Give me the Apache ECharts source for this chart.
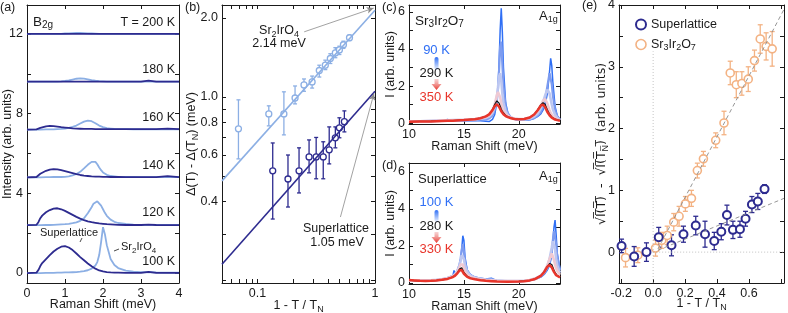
<!DOCTYPE html>
<html><head><meta charset="utf-8">
<script src="https://cdn.jsdelivr.net/npm/echarts@6/dist/echarts.min.js"></script>
<style>html,body{margin:0;padding:0;background:#fff}#c{width:788px;height:313px}</style>
</head><body><div id="c"></div>
<script>
// ---------- Panel (a): B2g spectra ----------
const aX = [0,0.25,0.3,0.35,0.4,0.5,0.6,0.7,0.8,0.9,1.0,1.1,1.2,1.3,1.4,1.5,1.6,1.7,1.75,1.8,1.85,1.9,1.95,2.0,2.05,2.1,2.2,2.3,2.4,2.6,2.8,3.0,3.2,3.4,3.7,4.0];
const aOffset = [0,2.4,4.8,7.2,9.6,12];
const aTempLabels = ['100 K','120 K','140 K','160 K','180 K','T = 200 K'];
const slA100 = [0,0.02,0.15,0.35,0.5,0.7,0.9,1.08,1.22,1.32,1.35,1.28,1.15,0.98,0.8,0.64,0.48,0.34,0.28,0.22,0.17,0.13,0.1,0.08,0.06,0.05,0.03,0.02,0.02,0.01,0.01,0.01,0.06,0.01,0.01,0.01];
const slA120 = [0,0.02,0.15,0.35,0.48,0.65,0.76,0.83,0.85,0.8,0.72,0.62,0.52,0.42,0.33,0.25,0.19,0.15,0.13,0.12,0.1,0.09,0.08,0.07,0.06,0.05,0.04,0.03,0.02,0.01,0.01,0.01,0.03,0.01,0,0];
const slA140 = [0,0.02,0.08,0.18,0.25,0.33,0.39,0.41,0.4,0.36,0.31,0.26,0.21,0.16,0.12,0.09,0.07,0.05,0.05,0.04,0.04,0.04,0.03,0.03,0.03,0.03,0.02,0.02,0.02,0.01,0.01,0.01,0.01,0.01,0.06,0.01];
const slA160 = [0,0.01,0.04,0.08,0.12,0.16,0.18,0.17,0.15,0.12,0.1,0.08,0.06,0.05,0.04,0.03,0.03,0.03,0.03,0.02,0.02,0.02,0.02,0.02,0.02,0.02,0.02,0.02,0.02,0.02,0.02,0.02,0.02,0.02,0.05,0.02];
const slA180 = [0,0,0,0,0,0,0,0,0,0,0,0,0,0,0,0,0,0,0,0,0,0,0,0,0,0,0,0,0,0,0,0,0.06,0,0,0];
const slA200 = [0,0,0,0,0,0,0,0,0,0,0,0,0,0,0,0,0,0,0,0,0,0,0,0,0,0,0,0,0,0,0,0,0,0,0,0];
const srA100 = [0,0,0,0,0,0.01,0.01,0.01,0.02,0.02,0.03,0.03,0.04,0.05,0.07,0.1,0.14,0.22,0.28,0.38,0.55,0.9,1.55,2.3,1.95,1.4,0.7,0.4,0.25,0.12,0.07,0.05,0.04,0.03,0.02,0.02];
const srA120 = [0,0,0,0,0,0.01,0.01,0.02,0.03,0.04,0.05,0.07,0.1,0.14,0.22,0.35,0.6,0.9,1.08,1.18,1.2,1.12,0.98,0.8,0.62,0.47,0.28,0.17,0.11,0.06,0.03,0.02,0.02,0.01,0.01,0.01];
const srA140 = [0,0,0,0,0,0.01,0.01,0.02,0.02,0.02,0.03,0.05,0.1,0.17,0.28,0.45,0.63,0.78,0.82,0.78,0.66,0.5,0.36,0.25,0.18,0.13,0.07,0.05,0.03,0.02,0.02,0.01,0.01,0.01,0.01,0.01];
const srA160 = [0,0,0,0,0,0.01,0.01,0.01,0.02,0.03,0.05,0.08,0.13,0.2,0.3,0.4,0.45,0.42,0.38,0.32,0.26,0.2,0.15,0.12,0.09,0.07,0.05,0.03,0.02,0.02,0.01,0.01,0.01,0.01,0.01,0.01];
const srA180 = [0,0,0,0,0,0,0,0,0.01,0.02,0.04,0.07,0.11,0.15,0.17,0.16,0.12,0.08,0.06,0.05,0.04,0.03,0.02,0.02,0.01,0.01,0,0,0,0,0,0,0,0,0,0];
const srA200 = [0,0,0,0,0,0,0,0,0,0,0.02,0.03,0.04,0.05,0.05,0.04,0.03,0.02,0.02,0.01,0,0,0,0,0,0,0,0,0,0,0,0,0,0,0,0];
const aSL = [slA100, slA120, slA140, slA160, slA180, slA200];
const aSR = [srA100, srA120, srA140, srA160, srA180, srA200];

// ---------- Panel (b): gap vs reduced temperature ----------
const bSrX  = [0.069,0.125,0.168,0.209,0.249,0.292,0.336,0.378,0.417,0.460,0.498,0.539,0.607];
const bSrY  = [0.755,0.861,0.861,0.99,1.11,1.14,1.26,1.32,1.40,1.47,1.51,1.58,1.68];
const bSrLo = [0.58,0.775,0.716,0.94,1.05,1.08,1.19,1.27,1.34,1.41,1.45,1.53,1.64];
const bSrHi = [0.974,0.924,1.045,1.10,1.17,1.20,1.32,1.38,1.46,1.54,1.56,1.63,1.72];
const bSlX  = [0.135,0.182,0.226,0.275,0.316,0.363,0.408,0.460,0.498,0.549];
const bSlY  = [0.522,0.486,0.522,0.59,0.59,0.59,0.628,0.698,0.762,0.804];
const bSlLo = [0.342,0.38,0.43,0.513,0.487,0.487,0.555,0.639,0.698,0.735];
const bSlHi = [0.667,0.60,0.639,0.685,0.70,0.674,0.768,0.768,0.832,0.884];
const bSrFit = [[0.05,0.478],[1,2.14]];
const bSlFit = [[0.05,0.230],[1,1.05]];
const bSrNote = [[0.25,1.77],[0.975,2.18]];
const bSlNote = [[0.508,0.348],[0.98,1.03]];

// ---------- Panel (c): Sr3Ir2O7 A1g ----------
const cX   = [10,11,12,13,13.5,14,15,16,16.5,17,17.3,17.6,17.8,18.0,18.1,18.2,18.3,18.4,18.5,18.6,18.8,19.0,19.3,19.6,20,20.5,21,21.4,21.7,22.0,22.2,22.4,22.6,22.8,22.9,23.0,23.1,23.3,23.5,23.75];
const c090 = [0.08,0.1,0.1,0.12,0.2,0.12,0.12,0.12,0.12,0.1,0.08,0.2,0.45,1.1,1.9,3.2,5.0,6.2,4.9,3.0,1.1,0.55,0.3,0.2,0.15,0.15,0.18,0.25,0.35,0.5,0.7,1.0,1.6,2.8,3.5,3.1,2.2,0.9,0.4,0.2];
const c150 = [0.09,0.1,0.11,0.13,0.15,0.14,0.15,0.16,0.18,0.2,0.25,0.4,0.7,1.2,1.8,2.8,4.1,4.4,3.2,2.0,0.9,0.5,0.3,0.22,0.17,0.17,0.2,0.28,0.4,0.6,0.85,1.25,2.0,2.7,2.6,2.1,1.5,0.7,0.35,0.18];
const c220 = [0.09,0.1,0.12,0.14,0.15,0.16,0.17,0.2,0.23,0.28,0.35,0.55,0.85,1.4,1.9,2.5,2.7,2.3,1.6,1.1,0.65,0.42,0.3,0.23,0.2,0.2,0.25,0.35,0.5,0.8,1.1,1.5,1.8,1.6,1.3,1.0,0.75,0.45,0.28,0.17];
const c260 = [0.08,0.09,0.11,0.13,0.14,0.15,0.18,0.22,0.26,0.33,0.42,0.65,1.0,1.5,1.68,1.65,1.4,1.1,0.85,0.68,0.48,0.38,0.29,0.24,0.22,0.23,0.3,0.45,0.65,0.95,1.2,1.3,1.05,0.7,0.55,0.45,0.37,0.27,0.2,0.15];
const c290 = [0.08,0.09,0.1,0.12,0.13,0.14,0.17,0.22,0.27,0.36,0.48,0.72,1.0,1.2,1.2,1.08,0.92,0.76,0.63,0.53,0.41,0.34,0.27,0.23,0.21,0.23,0.31,0.47,0.7,0.98,1.1,1.0,0.72,0.48,0.4,0.33,0.28,0.21,0.17,0.14];
const c350 = [0.07,0.08,0.09,0.11,0.12,0.13,0.16,0.21,0.26,0.36,0.47,0.7,0.9,1.02,0.98,0.88,0.76,0.64,0.55,0.48,0.38,0.32,0.26,0.22,0.2,0.22,0.3,0.46,0.68,0.94,1.0,0.85,0.6,0.42,0.35,0.29,0.25,0.19,0.16,0.13];

// ---------- Panel (d): Superlattice A1g ----------
const dX   = [10,10.5,11,11.5,12,12.5,13,13.5,14,14.1,14.2,14.4,14.6,14.7,14.8,14.9,15.0,15.1,15.3,15.6,16,16.5,17,17.5,18,19,20,20.5,21,21.5,22,22.3,22.6,22.8,23.0,23.1,23.2,23.3,23.4,23.5,23.75];
const d100 = [0.12,0.11,0.11,0.12,0.13,0.15,0.18,0.27,0.4,0.68,0.45,0.62,1.0,1.3,1.8,2.55,2.3,1.4,0.7,0.45,0.32,0.25,0.22,0.26,0.12,0.08,0.08,0.1,0.13,0.2,0.32,0.46,0.7,0.95,1.5,2.2,3.0,3.4,2.6,1.6,0.75];
const d140 = [0.13,0.12,0.12,0.13,0.14,0.16,0.19,0.27,0.38,0.45,0.48,0.65,1.0,1.3,1.8,2.1,1.7,1.15,0.65,0.42,0.3,0.24,0.2,0.18,0.13,0.09,0.09,0.11,0.15,0.22,0.36,0.52,0.8,1.1,1.7,2.3,2.8,2.8,2.1,1.4,0.7];
const d180 = [0.14,0.13,0.13,0.14,0.15,0.17,0.2,0.27,0.38,0.42,0.48,0.65,0.95,1.2,1.5,1.6,1.3,0.95,0.6,0.4,0.3,0.23,0.19,0.17,0.13,0.1,0.1,0.12,0.16,0.24,0.4,0.58,0.9,1.3,1.9,2.25,2.2,1.8,1.3,0.95,0.55];
const d230 = [0.15,0.14,0.13,0.13,0.14,0.16,0.19,0.25,0.36,0.4,0.45,0.6,0.85,1.0,1.1,1.0,0.8,0.62,0.45,0.33,0.25,0.2,0.16,0.14,0.12,0.1,0.1,0.12,0.16,0.24,0.4,0.6,0.95,1.3,1.6,1.5,1.25,1.0,0.8,0.65,0.45];
const d280 = [0.15,0.13,0.12,0.11,0.12,0.14,0.17,0.22,0.33,0.36,0.42,0.55,0.75,0.84,0.82,0.7,0.57,0.47,0.36,0.27,0.21,0.16,0.13,0.11,0.09,0.08,0.09,0.11,0.15,0.23,0.4,0.6,0.9,1.05,1.0,0.85,0.7,0.57,0.47,0.4,0.32];
const d330 = [0.16,0.14,0.12,0.11,0.12,0.14,0.17,0.22,0.32,0.35,0.4,0.52,0.68,0.74,0.7,0.6,0.5,0.42,0.33,0.25,0.2,0.15,0.12,0.1,0.08,0.07,0.08,0.1,0.14,0.22,0.38,0.58,0.88,0.97,0.85,0.72,0.6,0.5,0.42,0.37,0.3];

// ---------- Panel (e): sqrt intensity change ----------
const eSlX = [-0.198,-0.119,-0.042,0.035,0.115,0.19,0.267,0.325,0.383,0.427,0.4625,0.50,0.544,0.579,0.619,0.656,0.698];
const eSlY = [0.10,-0.07,0.0,0.24,0.11,0.29,0.43,0.29,0.18,0.33,0.60,0.36,0.37,0.54,0.77,0.82,1.02];
const eSlE = [0.11,0.16,0.15,0.16,0.17,0.13,0.15,0.21,0.14,0.13,0.16,0.14,0.13,0.12,0.13,0.13,0.07];
const eSrX = [-0.173,-0.096,0.015,0.054,0.088,0.129,0.1625,0.202,0.24,0.277,0.315,0.392,0.444,0.483,0.521,0.556,0.596,0.635,0.671,0.708,0.746];
const eSrY = [-0.09,-0.05,0.065,0.19,0.27,0.485,0.58,0.78,0.87,1.32,1.51,1.81,2.09,2.90,2.71,2.73,2.80,3.10,3.45,3.33,3.29];
const eSrE = [0.15,0.12,0.13,0.13,0.15,0.14,0.16,0.12,0.13,0.12,0.12,0.12,0.19,0.19,0.21,0.19,0.20,0.17,0.23,0.22,0.28];
const eSrFit = [[0.03,0.05],[0.82,3.93]];
const eSlFit = [[0.03,0.03],[0.82,0.87]];
const eZeroV = [[0,-0.5],[0,3.25]];
const eZeroH = [[0,0],[0.82,0]];

// ---------- styling ----------
const FONT = '"Liberation Sans", Arial, Helvetica, sans-serif';
const INK = '#1a1a1a';
const DARK = '#2d2b8f';
const LIGHT = '#8cafe4';
const ORANGE = '#f3b283';
const BLUE = '#2f6ff5';
const RED = '#e8352b';
const FS = 12.5;
const RICH = {s:{fontSize:9, fontFamily:FONT, color:INK, padding:[7,0,0,0]}};

const GRIDS = [[27,5,152,278],[222,5,153,278],[409,5,151,119],[409,163,151,121],[619,5,165,278]];
const xAxes = [], yAxes = [];
function axisPair(list, g, c, primaryPos, mirrorPos) {
  const base = () => ({
    type: c.type || 'value', gridIndex: g, min: c.min, max: c.max,
    axisLine: {show:true, onZero:false, lineStyle:{color:INK, width:1}},
    axisTick: {show:true, inside:true, length:4, customValues:c.ticks, lineStyle:{color:INK, width:1}},
    splitLine: {show:false}, minorTick:{show:false}
  });
  const p = Object.assign(base(), {
    position: primaryPos,
    axisLabel: {show:true, customValues:c.labels, formatter:c.fmt, color:INK, fontFamily:FONT, fontSize:FS, margin:c.margin || 4},
    name: c.name || '', nameLocation:'middle', nameGap:c.gap, nameMoveOverlap:false,
    nameTextStyle: {color:INK, fontFamily:c.nameFont || FONT, fontSize:FS, rich:RICH}
  });
  if (c.type === 'log') p.logBase = 10;
  const m = Object.assign(base(), {position: mirrorPos, axisLabel:{show:false}});
  if (c.type === 'log') m.logBase = 10;
  list.push(p, m);
}
const f1 = v => Number(v).toFixed(1);
const fInt = v => String(Math.round(v));
// (a)
axisPair(xAxes,0,{min:0,max:4,ticks:[0,1,2,3,4],labels:[0,1,2,3,4],fmt:fInt,name:'Raman Shift (meV)',gap:15},'bottom','top');
axisPair(yAxes,0,{min:-0.5,max:13.45,ticks:[0,2,4,6,8,10,12],labels:[0,4,8,12],fmt:fInt,name:'Intensity (arb. units)',gap:13},'left','right');
// (b)
axisPair(xAxes,1,{type:'log',min:0.05,max:1,ticks:[0.06,0.07,0.08,0.09,0.1,0.2,0.3,0.4,0.5,0.6,0.7,0.8,0.9,1],labels:[0.1,1],fmt:v=>String(Number(v)),name:'1 - T / T{s|N}',gap:15},'bottom','top');
axisPair(yAxes,1,{type:'log',min:0.195,max:2.24,ticks:[0.2,0.3,0.4,0.5,0.6,0.7,0.8,0.9,1,2],labels:[0.4,0.6,0.8,1,2],fmt:f1,name:'\u0394(T) - \u0394(T{s|N}) (meV)',gap:22},'left','right');
// (c)
axisPair(xAxes,2,{min:10,max:23.75,ticks:[10,15,20],labels:[10,15,20],fmt:fInt,name:'Raman Shift (meV)',gap:16},'bottom','top');
axisPair(yAxes,2,{min:-0.05,max:6.38,ticks:[0,1,2,3,4,5,6],labels:[0,2,4,6],fmt:fInt,name:'I (arb. units)',gap:12},'left','right');
// (d)
axisPair(xAxes,3,{min:10,max:23.75,ticks:[10,15,20],labels:[10,15,20],fmt:fInt,name:'Raman Shift (meV)',gap:16},'bottom','top');
axisPair(yAxes,3,{min:-0.054,max:6.48,ticks:[0,1,2,3,4,5,6],labels:[0,2,4,6],fmt:fInt,name:'I (arb. units)',gap:12},'left','right');
// (e)
axisPair(xAxes,4,{min:-0.214,max:0.82,ticks:[-0.2,0,0.2,0.4,0.6,0.8],labels:[-0.2,0,0.2,0.4,0.6],fmt:f1,name:'1 - T / T{s|N}',gap:13},'bottom','top');
axisPair(yAxes,4,{min:-0.5,max:4,ticks:[-0.5,0,0.5,1,1.5,2,2.5,3,3.5,4],labels:[0,1,2,3,4],fmt:fInt,
  name:'\u221AI\u0305(\u0305T\u0305)\u0305  -  \u221AI\u0305(\u0305T\u0305{s|N\u0305})\u0305  (arb. units)',gap:9,nameFont:'"DejaVu Sans", '+FONT},'left','right');

// ---------- series ----------
const series = [];
function line(g, data, color, width, extra) {
  return Object.assign({type:'line', xAxisIndex:2*g, yAxisIndex:2*g, data, showSymbol:false, symbol:'none',
    silent:true, lineStyle:{color, width}, itemStyle:{color}, emphasis:{disabled:true}}, extra || {});
}
aSR.forEach((ys,i) => series.push(line(0, aX.map((x,k)=>[x, ys[k]+aOffset[i]]), LIGHT, 1.8)));
aSL.forEach((ys,i) => series.push(line(0, aX.map((x,k)=>[x, ys[k]+aOffset[i]]), DARK, 1.8)));

function errSeries(g, data, color, cap) {
  return {type:'custom', xAxisIndex:2*g, yAxisIndex:2*g, silent:true, data, encode:{x:0, y:[1,2]},
    itemStyle:{color},
    renderItem: (params, api) => {
      const x = api.value(0), lo = api.value(1), hi = api.value(2);
      const p1 = api.coord([x, lo]), p2 = api.coord([x, hi]);
      const st = {stroke: color, lineWidth: 1.3};
      return {type:'group', children:[
        {type:'line', shape:{x1:p1[0],y1:p1[1],x2:p2[0],y2:p2[1]}, style:st},
        {type:'line', shape:{x1:p1[0]-cap,y1:p1[1],x2:p1[0]+cap,y2:p1[1]}, style:st},
        {type:'line', shape:{x1:p2[0]-cap,y1:p2[1],x2:p2[0]+cap,y2:p2[1]}, style:st}]};
    }};
}
function scatter(g, data, color, size, bw, name) {
  return {type:'scatter', name, xAxisIndex:2*g, yAxisIndex:2*g, data, symbol:'circle', symbolSize:size, silent:true,
    itemStyle:{color:'#fff', borderColor:color, borderWidth:bw, opacity:1}, emphasis:{disabled:true}};
}
// (b)
series.push(line(1, bSrFit, LIGHT, 1.6, {markLine:{silent:true, symbol:['none','arrow'], symbolSize:[5,7], label:{show:false},
  lineStyle:{color:'#8a8a8a', width:0.8, type:'solid'}, data:[[{coord:bSrNote[0]},{coord:bSrNote[1]}]]}}));
series.push(line(1, bSlFit, DARK, 1.6, {markLine:{silent:true, symbol:['none','arrow'], symbolSize:[5,7], label:{show:false},
  lineStyle:{color:'#8a8a8a', width:0.8, type:'solid'}, data:[[{coord:bSlNote[0]},{coord:bSlNote[1]}]]}}));
series.push(errSeries(1, bSrX.map((x,i)=>[x,bSrLo[i],bSrHi[i]]), LIGHT, 2));
series.push(errSeries(1, bSlX.map((x,i)=>[x,bSlLo[i],bSlHi[i]]), DARK, 2));
series.push(scatter(1, bSrX.map((x,i)=>[x,bSrY[i]]), LIGHT, 6, 1.3, 'b-Sr2IrO4'));
series.push(scatter(1, bSlX.map((x,i)=>[x,bSlY[i]]), DARK, 6, 1.3, 'b-Superlattice'));
// (c)
const cTraces = [[c090,BLUE,1.5],[c150,'#7d9cf0',2.2],[c220,'#bdc7f1',2.6],[c260,'#efc9d3',2.6],[c290,'#111111',1.2],[c350,RED,2.5]];
cTraces.forEach(t => series.push(line(2, cX.map((x,k)=>[x,t[0][k]]), t[1], t[2])));
// (d)
const dTraces = [[d100,BLUE,1.5],[d140,'#7d9cf0',2.2],[d180,'#bdc7f1',2.6],[d230,'#efc9d3',2.6],[d280,'#111111',1.2],[d330,RED,2.5]];
dTraces.forEach(t => series.push(line(3, dX.map((x,k)=>[x,t[0][k]]), t[1], t[2])));
// (e)
series.push(line(4, eZeroV, '#b5b5b5', 0.8, {lineStyle:{color:'#b5b5b5', width:0.8, type:[1,2]}}));
series.push(line(4, eZeroH, '#b5b5b5', 0.8, {lineStyle:{color:'#b5b5b5', width:0.8, type:[1,2]}}));
series.push(line(4, eSrFit, '#8a8a8a', 0.9, {lineStyle:{color:'#8a8a8a', width:0.9, type:[4,3]}}));
series.push(line(4, eSlFit, '#8a8a8a', 0.9, {lineStyle:{color:'#8a8a8a', width:0.9, type:[4,3]}}));
series.push(errSeries(4, eSrX.map((x,i)=>[x,eSrY[i]-eSrE[i],eSrY[i]+eSrE[i]]), ORANGE, 2.5));
series.push(errSeries(4, eSlX.map((x,i)=>[x,eSlY[i]-eSlE[i],eSlY[i]+eSlE[i]]), DARK, 2.5));
series.push(scatter(4, eSrX.map((x,i)=>[x,eSrY[i]]), ORANGE, 8, 1.6, 'Sr3Ir2O7'));
series.push(scatter(4, eSlX.map((x,i)=>[x,eSlY[i]]), DARK, 8, 2, 'Superlattice'));

// ---------- text & decorations ----------
function T(x, y, text, o) {
  o = o || {};
  const size = o.size || FS;
  const ss = Math.round(size*0.72);
  const rich = {s:{font:ss+'px '+FONT, fontSize:ss, fontFamily:FONT, fill:o.color||INK, padding:[7,0,0,0]}};
  return {type:'text', x, y, silent:true, z:100, style:{text, fill:o.color||INK, font:size+'px '+FONT, fontSize:size, fontFamily:FONT,
    align:o.align||'left', verticalAlign:'middle', rich}};
}
const grad = (c1,c2) => ({type:'linear', x:0, y:0, x2:0, y2:1, colorStops:[{offset:0,color:c1},{offset:1,color:c2}]});
function blueBar(y0, y1) { return {type:'rect', silent:true, z:100, shape:{x:434.5, y:y0, width:4, height:y1-y0, r:2}, style:{fill:grad(BLUE,'rgba(47,111,245,0.08)')}}; }
function redArrow(y0, y1) { const m = y1-6; return {type:'polygon', silent:true, z:100,
  shape:{points:[[434.5,y0],[438.5,y0],[438.5,m],[441.5,m],[436.5,y1],[431.5,m],[434.5,m]]}, style:{fill:grad('rgba(240,170,170,0.5)',RED)}}; }
const texts = [
  T(0,8,'(a)'), T(33,22,'B{s|2g}',{size:13.5}),
  T(175,23,aTempLabels[5],{align:'right'}), T(175,70,aTempLabels[4],{align:'right'}), T(175,118,aTempLabels[3],{align:'right'}),
  T(175,166,aTempLabels[2],{align:'right'}), T(175,213,aTempLabels[1],{align:'right'}), T(175,262,aTempLabels[0],{align:'right'}),
  T(40,233,'Superlattice',{size:11}), T(121,247,'Sr{s|2}IrO{s|4}',{size:11}),
  {type:'line', silent:true, z:100, shape:{x1:82,y1:238,x2:80,y2:242}, style:{stroke:INK, lineWidth:0.8}},
  {type:'line', silent:true, z:100, shape:{x1:119,y1:249,x2:114,y2:251}, style:{stroke:INK, lineWidth:0.8}},
  T(185,8,'(b)'), T(279,31,'Sr{s|2}IrO{s|4}',{align:'center'}), T(279,44,'2.14 meV',{align:'center'}),
  T(336,229,'Superlattice',{align:'center'}), T(337,243,'1.05 meV',{align:'center'}),
  T(382,8,'(c)'), T(415,21,'Sr{s|3}Ir{s|2}O{s|7}',{size:13.5}), T(539,16,'A{s|1g}',{size:13}),
  T(436.5,50,'90 K',{align:'center',color:BLUE,size:13}), T(436.5,73,'290 K',{align:'center',size:13}), T(436.5,97,'350 K',{align:'center',color:RED,size:13}),
  blueBar(57,70), redArrow(79,90),
  T(382,166,'(d)'), T(418,179,'Superlattice',{size:13}), T(539,176,'A{s|1g}',{size:13}),
  T(436.5,202,'100 K',{align:'center',color:BLUE,size:13}), T(436.5,226,'280 K',{align:'center',size:13}), T(436.5,249,'330 K',{align:'center',color:RED,size:13}),
  blueBar(210,222), redArrow(232,243),
  T(582,6,'(e)')
];

const option = {
  animation:false, backgroundColor:'#fff', textStyle:{fontFamily:FONT},
  grid: GRIDS.map(g => ({left:g[0], top:g[1], width:g[2], height:g[3], containLabel:false, outerBoundsMode:'none'})),
  xAxis:xAxes, yAxis:yAxes, series,
  legend:{left:630, top:13, orient:'vertical', itemGap:7, itemWidth:10, itemHeight:10, selectedMode:false,
    textStyle:{color:INK, fontFamily:FONT, fontSize:FS, rich:RICH},
    formatter: n => n === 'Sr3Ir2O7' ? 'Sr{s|3}Ir{s|2}O{s|7}' : n,
    data:[{name:'Superlattice', icon:'circle', itemStyle:{color:'#fff', borderColor:DARK, borderWidth:2}},
          {name:'Sr3Ir2O7', icon:'circle', itemStyle:{color:'#fff', borderColor:ORANGE, borderWidth:1.6}}]},
  graphic:{elements:texts}
};
const chart = echarts.init(document.getElementById('c'), null, {renderer:'canvas'});
chart.setOption(option);
</script></body></html>
